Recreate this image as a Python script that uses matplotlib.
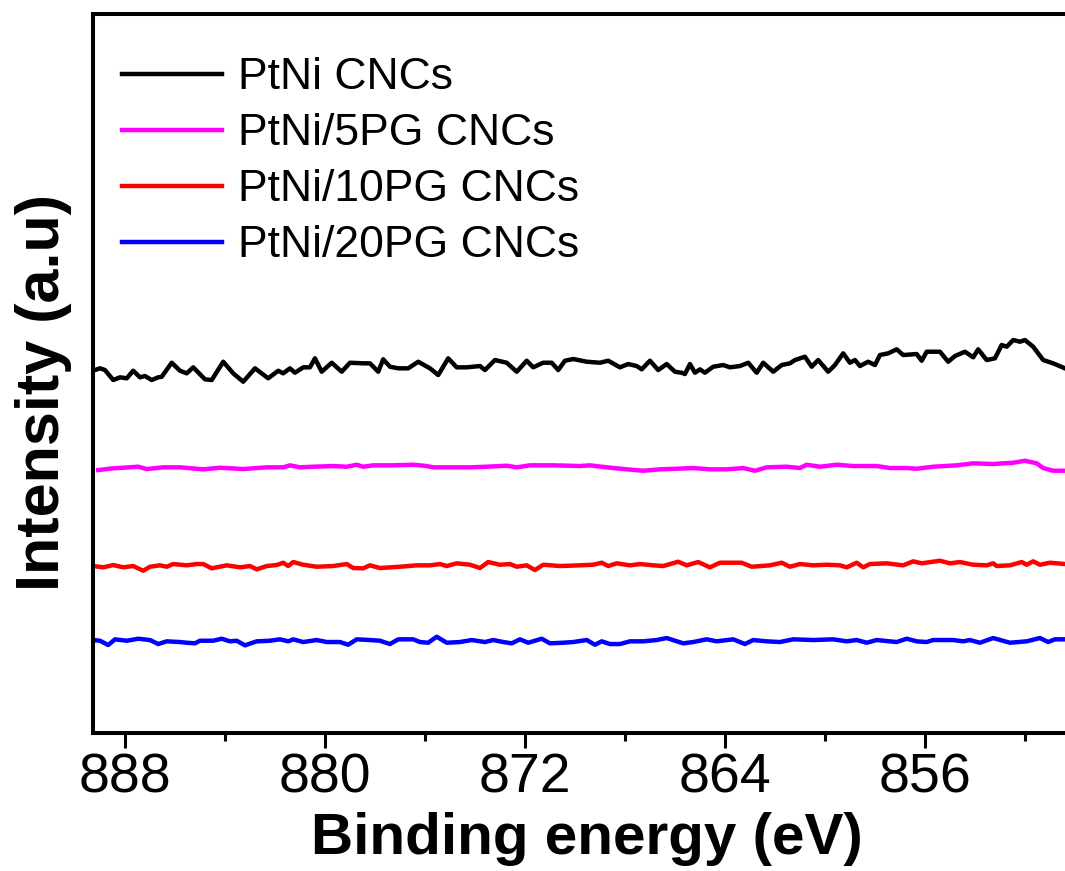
import matplotlib
matplotlib.use("Agg")
import matplotlib.pyplot as plt
from matplotlib.ticker import MultipleLocator

plt.rcParams['font.family'] = ['Liberation Sans', 'DejaVu Sans']

# binding energy (eV) / intensity (a.u.)
e_ptni = [889.20, 889.00, 888.80, 888.47, 888.20, 887.93, 887.67, 887.40, 887.20, 886.93,
          886.67, 886.53, 886.13, 885.80, 885.53, 885.27, 884.80, 884.53, 884.07, 883.67,
          883.27, 882.80, 882.27, 881.87, 881.67, 881.40, 881.20, 880.87, 880.60, 880.40,
          880.13, 879.73, 879.33, 879.00, 878.47, 878.20, 877.87, 877.67, 877.40, 877.07,
          876.67, 876.27, 875.80, 875.47, 875.07, 874.73, 874.33, 873.80, 873.60, 873.20,
          872.73, 872.33, 871.93, 871.67, 871.27, 870.93, 870.67, 870.40, 870.07, 869.53,
          869.00, 868.67, 868.20, 867.87, 867.53, 867.33, 867.00, 866.67, 866.33, 866.00,
          865.73, 865.60, 865.40, 865.20, 865.00, 864.80, 864.47, 864.07, 863.80, 863.40,
          863.07, 862.73, 862.47, 862.07, 861.73, 861.40, 861.20, 860.80, 860.53, 860.27,
          859.87, 859.60, 859.27, 859.00, 858.80, 858.60, 858.27, 858.00, 857.80, 857.47,
          857.13, 856.87, 856.33, 856.13, 855.93, 855.40, 855.07, 854.80, 854.40, 854.07,
          853.87, 853.53, 853.20, 852.93, 852.73, 852.47, 852.20, 852.00, 851.67, 851.27,
          850.87, 850.40]
i_ptni = [363.0, 364.7, 363.0, 353.0, 355.7, 354.7, 362.3, 355.7, 357.0, 353.0,
          355.7, 356.3, 370.3, 362.3, 359.7, 365.7, 353.7, 353.0, 371.3, 359.7,
          351.3, 364.7, 354.7, 362.3, 359.7, 364.7, 360.3, 365.7, 365.7, 374.7,
          361.3, 370.3, 361.3, 370.3, 369.7, 369.7, 361.3, 373.7, 366.3, 364.7,
          364.7, 371.3, 364.7, 358.0, 374.7, 365.7, 365.7, 367.0, 363.0, 373.0,
          370.3, 361.3, 372.3, 365.7, 370.3, 370.3, 363.0, 372.3, 374.0, 371.3,
          370.3, 372.3, 365.7, 369.0, 367.0, 363.7, 372.3, 363.0, 369.0, 361.3,
          360.3, 359.0, 369.0, 360.3, 363.7, 360.3, 366.3, 368.0, 365.7, 367.0,
          370.3, 360.3, 370.3, 361.3, 368.0, 369.7, 373.0, 376.3, 366.3, 373.0,
          361.3, 368.0, 379.7, 370.3, 373.0, 367.0, 371.3, 368.0, 378.0, 379.7,
          383.7, 378.0, 379.0, 372.3, 381.3, 381.3, 371.3, 377.0, 381.3, 375.7,
          383.7, 373.0, 374.7, 388.0, 386.3, 393.0, 391.3, 393.0, 386.3, 373.0,
          369.7, 364.7]

e_5pg = [889.07, 888.47, 887.47, 887.13, 886.47, 885.80, 884.87, 884.20, 883.27, 882.33,
         881.67, 881.40, 881.00, 880.47, 879.67, 879.13, 878.73, 878.47, 878.07, 877.27,
         876.47, 875.93, 875.67, 875.13, 874.20, 873.53, 872.73, 872.33, 871.80, 870.87,
         869.80, 869.40, 868.73, 867.93, 867.27, 866.60, 865.93, 865.27, 864.60, 863.93,
         863.27, 862.80, 862.33, 861.53, 861.00, 860.73, 860.20, 859.53, 858.87, 857.93,
         857.40, 856.73, 856.33, 855.67, 854.73, 854.07, 853.27, 852.87, 852.47, 852.00,
         851.53, 851.27, 850.87, 850.40]
i_5pg = [263.0, 264.7, 266.3, 264.0, 265.7, 265.7, 263.7, 265.3, 264.0, 265.7,
         265.7, 267.7, 265.7, 266.3, 267.0, 266.3, 268.3, 266.3, 267.7, 267.7,
         268.3, 267.0, 265.7, 265.7, 265.7, 266.3, 267.3, 265.7, 267.7, 267.7,
         267.0, 267.7, 265.7, 263.7, 262.3, 263.7, 264.3, 265.0, 263.7, 263.7,
         265.0, 262.3, 265.7, 266.3, 265.0, 268.3, 266.3, 268.3, 267.0, 267.0,
         265.0, 265.0, 264.3, 266.3, 267.7, 269.7, 269.0, 269.7, 270.3, 272.3,
         269.7, 265.0, 262.3, 262.3]

e_10pg = [889.27, 888.87, 888.47, 888.07, 887.67, 887.27, 887.00, 886.60, 886.33, 886.07,
          885.53, 885.13, 884.87, 884.53, 883.93, 883.40, 883.00, 882.73, 882.33, 881.93,
          881.67, 881.47, 881.27, 880.87, 880.33, 879.67, 879.13, 878.87, 878.47, 878.20,
          877.80, 877.00, 876.33, 875.80, 875.40, 875.13, 874.73, 874.20, 873.80, 873.47,
          873.00, 872.60, 872.33, 871.93, 871.60, 871.27, 870.60, 869.80, 869.27, 868.93,
          868.67, 868.33, 867.80, 867.40, 866.87, 866.47, 865.87, 865.53, 865.07, 864.60,
          864.20, 863.67, 863.33, 862.93, 862.20, 861.73, 861.40, 861.00, 860.47, 859.93,
          859.40, 859.13, 858.73, 858.47, 858.20, 857.53, 856.87, 856.47, 856.13, 855.40,
          855.00, 854.60, 854.07, 853.53, 853.27, 853.13, 852.60, 852.13, 851.93, 851.67,
          851.40, 851.00, 850.40]
i_10pg = [167.0, 165.7, 168.0, 165.7, 167.0, 162.3, 166.3, 167.7, 166.3, 169.0,
          167.7, 169.0, 169.0, 164.7, 167.7, 165.7, 167.0, 163.7, 167.0, 168.0,
          170.3, 167.0, 171.0, 168.3, 166.3, 167.0, 169.0, 165.0, 164.7, 167.7,
          165.0, 166.3, 167.7, 167.7, 169.0, 167.0, 169.7, 168.3, 165.0, 171.0,
          168.3, 169.0, 166.3, 167.7, 163.0, 168.3, 167.0, 167.7, 168.3, 170.3,
          167.0, 169.7, 167.7, 169.0, 167.7, 167.0, 171.3, 167.7, 171.0, 165.7,
          170.3, 170.3, 170.3, 166.3, 167.7, 170.3, 166.3, 169.0, 167.7, 168.3,
          167.7, 165.7, 170.3, 165.7, 169.0, 169.7, 167.7, 171.7, 169.7, 172.3,
          169.7, 171.0, 168.3, 167.7, 169.7, 167.0, 167.7, 171.0, 168.3, 171.7,
          168.3, 170.3, 169.0]

e_20pg = [889.27, 889.00, 888.67, 888.40, 887.93, 887.47, 887.00, 886.67, 886.33, 885.80,
          885.53, 885.20, 885.00, 884.47, 884.13, 883.80, 883.53, 883.20, 882.73, 882.20,
          881.80, 881.47, 881.27, 880.87, 880.33, 879.93, 879.40, 879.07, 878.73, 878.20,
          877.80, 877.40, 877.07, 876.47, 876.20, 875.87, 875.53, 875.13, 874.60, 874.13,
          873.60, 873.27, 872.87, 872.53, 872.20, 871.87, 871.33, 871.00, 870.47, 870.07,
          869.53, 869.20, 868.93, 868.60, 868.20, 867.80, 867.27, 866.73, 866.33, 865.67,
          865.27, 864.73, 864.33, 863.67, 863.20, 862.87, 862.33, 861.80, 861.27, 860.47,
          859.67, 859.13, 858.73, 858.33, 857.93, 857.13, 856.73, 856.33, 855.93, 855.67,
          854.87, 854.47, 854.20, 853.80, 853.27, 852.60, 851.93, 851.40, 851.07, 850.80,
          850.40]
i_20pg = [93.0, 92.3, 88.0, 93.7, 92.3, 94.3, 93.0, 89.0, 91.7, 91.0,
          90.3, 89.7, 92.3, 92.3, 94.3, 91.7, 92.3, 87.7, 91.7, 92.3,
          93.7, 91.7, 93.7, 91.0, 93.0, 91.0, 91.0, 88.3, 93.7, 93.0,
          92.3, 89.0, 93.7, 93.7, 91.0, 90.3, 96.3, 90.3, 91.0, 93.0,
          91.0, 93.0, 91.0, 89.7, 93.7, 90.3, 94.3, 89.7, 90.3, 91.0,
          93.0, 88.3, 91.7, 89.0, 89.0, 91.7, 91.7, 93.0, 95.0, 89.7,
          91.0, 93.7, 91.7, 93.7, 89.0, 93.0, 91.7, 91.0, 93.7, 93.0,
          93.7, 91.7, 93.0, 90.3, 93.0, 91.0, 94.3, 91.7, 91.0, 93.0,
          93.0, 91.7, 93.0, 90.3, 95.0, 90.3, 91.7, 95.0, 91.0, 93.7,
          93.7]

labels = ['PtNi CNCs', 'PtNi/5PG CNCs', 'PtNi/10PG CNCs', 'PtNi/20PG CNCs']
colors = ['black', '#ff00ff', '#ff0000', '#0000ff']

fig = plt.figure(figsize=(10.65, 8.71), dpi=100)
ax = fig.add_axes([0.0873, 0.1584, 0.9178, 0.8255])

series = [(e_ptni, i_ptni), (e_5pg, i_5pg), (e_10pg, i_10pg), (e_20pg, i_20pg)]
for (e, i), lab, c in zip(series, labels, colors):
    ax.plot(e, i, color=c, lw=3.2, label=lab)

ax.set_xlim(889.28, 850.18)
ax.set_ylim(0, 719)
ax.xaxis.set_major_locator(MultipleLocator(8))
ax.xaxis.set_minor_locator(MultipleLocator(4))
ax.set_yticks([])
for sp in ax.spines.values():
    sp.set_linewidth(2.9)
ax.tick_params(axis='x', which='major', direction='out', length=10.5, width=2.2,
               pad=3.5, labelsize=40)
ax.tick_params(axis='x', which='minor', direction='out', length=5.5, width=2.2)

ax.set_xlabel('Binding energy (eV)', fontsize=42, fontweight='bold')
ax.xaxis.set_label_coords(0.505, -0.110)
ax.set_ylabel('Intensity (a.u)', fontsize=44, fontweight='bold')
ax.yaxis.set_label_coords(-0.0215, 0.473)

ax.legend(loc='upper left', bbox_to_anchor=(0.0297, 0.940), frameon=False,
          fontsize=32, handlelength=2.25, handletextpad=0.36, labelspacing=0.34,
          borderpad=0, borderaxespad=0)

fig.savefig('out.png', dpi=100)
